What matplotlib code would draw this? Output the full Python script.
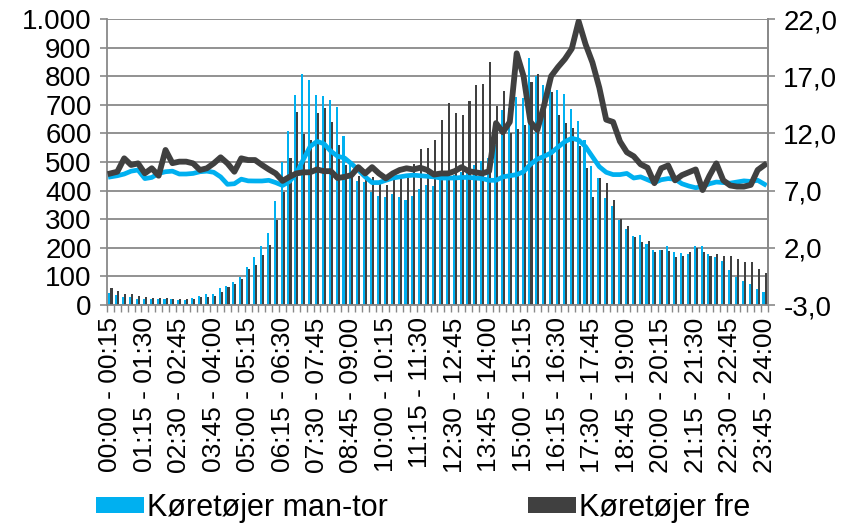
import matplotlib.pyplot as plt
import numpy as np
from matplotlib.ticker import FuncFormatter, MultipleLocator

plt.rcParams['font.family'] = ['Liberation Sans', 'DejaVu Sans']

# quarter-hour intervals "00:00 - 00:15" ... "23:45 - 24:00"
intervals = []
for q in range(96):
    a, b = q * 15, q * 15 + 15
    intervals.append('%02d:%02d - %02d:%02d' % (a // 60, a % 60, b // 60, b % 60))

# vehicles per quarter, Monday-Thursday (left axis)
man_tor = [41, 35, 29, 27, 21, 21, 20, 21, 20, 20, 16, 16,
           23, 31, 37, 37, 58, 66, 82, 99, 134, 167, 207, 253,
           364, 499, 608, 736, 808, 787, 736, 732, 717, 691, 591, 495,
           435, 431, 396, 382, 379, 388, 376, 367, 382, 406, 420, 417,
           440, 445, 455, 465, 470, 490, 505, 513, 560, 682, 690, 726,
           723, 865, 800, 769, 752, 752, 738, 684, 644, 577, 487, 445,
           375, 346, 297, 267, 242, 244, 214, 192, 192, 206, 184, 181,
           178, 206, 206, 178, 167, 155, 124, 99, 84, 72, 56, 46]

# vehicles per quarter, Friday (left axis)
fre = [61, 50, 37, 40, 31, 29, 26, 26, 23, 22, 20, 22,
       21, 27, 27, 30, 47, 62, 73, 92, 125, 140, 175, 210,
       297, 396, 515, 674, 598, 577, 670, 690, 641, 559, 490, 460,
       450, 445, 449, 425, 420, 437, 443, 455, 492, 545, 550, 577,
       647, 705, 672, 664, 713, 769, 773, 851, 695, 749, 600, 614,
       629, 781, 808, 720, 746, 664, 637, 620, 556, 478, 379, 445,
       428, 367, 299, 276, 237, 222, 225, 186, 192, 190, 169, 171,
       184, 198, 186, 171, 177, 172, 171, 160, 152, 152, 126, 111]

# line series (right axis)
man_tor_line = [8.2, 8.3, 8.45, 8.7, 8.8, 8.05, 8.15, 8.5, 8.65, 8.7, 8.45, 8.45,
                8.5, 8.65, 8.7, 8.6, 8.2, 7.55, 7.6, 8.0, 7.85, 7.84, 7.84, 7.9,
                7.7, 7.45, 7.8, 8.5, 9.7, 10.85, 11.3, 11.1, 10.45, 10.0, 9.85, 9.35,
                8.8, 8.2, 7.7, 7.7, 7.9, 8.1, 8.2, 8.3, 8.35, 8.3, 8.25, 8.2,
                8.1, 8.1, 8.1, 8.15, 8.15, 8.1, 8.05, 7.9, 7.9, 8.2, 8.3, 8.4,
                8.65, 9.3, 9.75, 10.0, 10.3, 10.8, 11.28, 11.57, 11.42, 10.84, 9.96, 9.09,
                8.6, 8.4, 8.4, 8.5, 8.1, 8.2, 7.95, 7.7, 7.95, 8.05, 8.0, 7.6,
                7.4, 7.25, 7.35, 7.6, 7.75, 7.7, 7.65, 7.75, 7.85, 7.8, 7.9, 7.55]

fre_line = [8.5, 8.65, 9.82, 9.24, 9.38, 8.51, 8.95, 8.3, 10.55, 9.4, 9.53, 9.53,
            9.38, 8.8, 8.95, 9.38, 9.91, 9.38, 8.65, 9.82, 9.67, 9.67, 9.24, 8.85,
            8.5, 7.85, 8.2, 8.5, 8.6, 8.6, 8.85, 8.7, 8.7, 8.1, 8.2, 8.35,
            9.05, 8.5, 9.05, 8.5, 8.07, 8.5, 8.8, 8.95, 8.85, 9.0, 8.8, 8.4,
            8.5, 8.5, 8.7, 9.05, 8.7, 8.6, 8.5, 8.7, 12.9, 12.1, 13.0, 19.0,
            17.0, 13.0, 12.3, 14.5, 17.0, 17.8, 18.5, 19.4, 21.8, 19.8, 18.2, 16.0,
            13.2, 13.0, 11.3, 10.35, 10.0, 9.3, 9.0, 7.65, 8.95, 9.2, 7.9, 8.35,
            8.6, 8.85, 7.05, 8.3, 9.38, 7.9, 7.45, 7.35, 7.35, 7.5, 8.8, 9.24]

BLUE = '#00B0F0'
DARK = '#404040'
GRID = '#898989'
FS = 20

fig = plt.figure(figsize=(8.59, 5.23), dpi=100)
ax = fig.add_axes([107 / 859, 1 - 305 / 523, 661 / 859, 286 / 523])

x = np.arange(len(intervals))
w = 0.3
ax.bar(x - w / 2, man_tor, w, color=BLUE, label='Køretøjer man-tor', zorder=2)
ax.bar(x + w / 2, fre, w, color=DARK, label='Køretøjer fre', zorder=2)

ax.set_xlim(-0.5, len(intervals) - 0.5)
ax.set_ylim(0, 1000)
ax.yaxis.set_major_locator(MultipleLocator(100))
ax.yaxis.set_major_formatter(FuncFormatter(lambda v, p: f'{int(v):,}'.replace(',', '.')))
ax.grid(axis='y', color=GRID, lw=1.3, zorder=0)
ax.set_axisbelow(True)

# labels every 5th interval, tick marks at every category boundary
ax.set_xticks(x[::5])
ax.set_xticklabels(intervals[::5], rotation=90)
ax.set_xticks(np.arange(-0.5, len(intervals), 1), minor=True)
ax.tick_params(axis='x', which='major', length=0, pad=9, labelsize=19)
ax.tick_params(axis='x', which='minor', length=5, width=1, color=GRID)
ax.tick_params(axis='y', length=5, width=1.2, color=GRID, labelsize=FS, pad=6)

ax.spines['top'].set_visible(False)
for s in ['left', 'bottom', 'right']:
    ax.spines[s].set_color(GRID)
    ax.spines[s].set_linewidth(1.3)

ax2 = ax.twinx()
ax2.plot(x, man_tor_line, color=BLUE, lw=3.4, solid_joinstyle='round')
ax2.plot(x, fre_line, color=DARK, lw=4.2, solid_joinstyle='round')
ax2.set_ylim(-3, 22)
ax2.set_yticks([-3, 2, 7, 12, 17, 22])
ax2.yaxis.set_major_formatter(FuncFormatter(lambda v, p: f'{v:.1f}'.replace('.', ',')))
ax2.tick_params(axis='y', length=5, width=1.2, color=GRID, labelsize=FS, pad=6)
for s in ['top', 'left', 'bottom']:
    ax2.spines[s].set_visible(False)
ax2.spines['right'].set_color(GRID)
ax2.spines['right'].set_linewidth(1.3)

fig.legend(loc='lower left', bbox_to_anchor=(0.107, -0.008), ncol=2, frameon=False,
           fontsize=22, handlelength=1.55, handleheight=0.45, handletextpad=0.1,
           columnspacing=4.6, borderpad=0.15, borderaxespad=0)

fig.savefig('out.png', dpi=100)
